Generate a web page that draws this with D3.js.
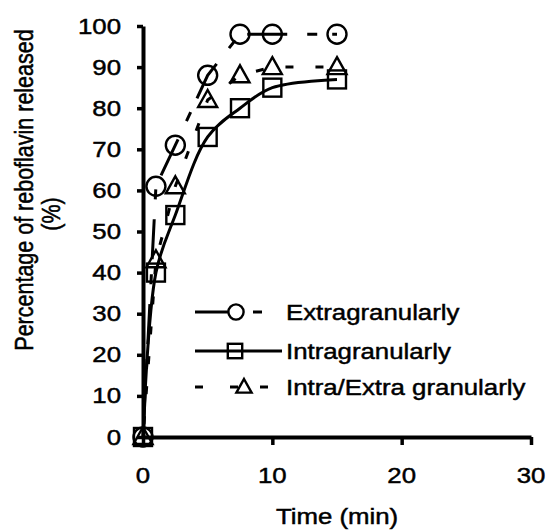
<!DOCTYPE html>
<html>
<head>
<meta charset="utf-8">
<script src="https://cdn.jsdelivr.net/npm/d3@7"></script>
<style>
  html, body { margin: 0; padding: 0; background: #fff; }
  svg { display: block; }
  text { font-family: "Liberation Sans", Arial, sans-serif; fill: #000; stroke: #000; stroke-width: 0.45px; }
</style>
</head>
<body>
<div id="chart"></div>
<script>
// ---- data ----
const timeMin = [0, 1, 2.5, 5, 7.5, 10, 15];
const extraValues = [0, 61, 71, 88, 98, 98, 98];        // Extragranularly (circles)
const intraValues = [0, 40, 54, 73, 80, 85, 87];        // Intragranularly (squares)
const intraExtraValues = [0, 43, 61, 82, 88, 90, 90];   // Intra/Extra granularly (triangles)
const seriesNames = ["Extragranularly", "Intragranularly", "Intra/Extra granularly"];
const xTickValues = [0, 10, 20, 30];
const yTickValues = [0, 10, 20, 30, 40, 50, 60, 70, 80, 90, 100];
const xLabel = "Time (min)";
const yLabelLines = ["Percentage of reboflavin released", "(%)"];

// ---- drawing ----
const W = 546, H = 530;
const SX = 1.2; // horizontal stretch of the lettering in the reference
const FS = 21.5;

const svg = d3.select("#chart").append("svg").attr("width", W).attr("height", H);

const x = d3.scaleLinear().domain([0, 30]).range([143, 531]);
const y = d3.scaleLinear().domain([0, 100]).range([437, 26]);

// axes
const yAxis = d3.axisLeft(y).tickValues(yTickValues).tickSize(6).tickSizeOuter(0).tickFormat("");
const xAxis = d3.axisBottom(x).tickValues(xTickValues).tickSize(8).tickSizeOuter(0).tickFormat("");

const gy = svg.append("g").attr("transform", `translate(${x(0)},0)`).call(yAxis);
const gx = svg.append("g").attr("transform", `translate(0,${y(0)})`).call(xAxis);
[gy, gx].forEach(g => {
  g.select(".domain").attr("stroke", "#000").attr("stroke-width", 4);
  g.selectAll(".tick line").attr("stroke", "#000").attr("stroke-width", 3.5);
});

// tick labels
svg.append("g").selectAll("text").data(yTickValues).join("text")
  .attr("transform", d => `translate(${x(0) - 22},${y(d) + 7.5}) scale(${SX},1)`)
  .attr("text-anchor", "end").attr("font-size", FS).text(d => d);
svg.append("g").selectAll("text").data(xTickValues).join("text")
  .attr("transform", d => `translate(${x(d)},${y(0) + 46}) scale(${SX},1)`)
  .attr("text-anchor", "middle").attr("font-size", FS).text(d => d);

// axis titles
svg.append("text")
  .attr("transform", `translate(${x(15)},524) scale(${SX},1)`)
  .attr("text-anchor", "middle").attr("font-size", FS).text(xLabel);
svg.append("text")
  .attr("transform", `translate(33,190) scale(${SX},1) rotate(-90)`)
  .attr("text-anchor", "middle").attr("font-size", FS).text(yLabelLines[0]);
svg.append("text")
  .attr("transform", `translate(60,214) scale(${SX},1) rotate(-90)`)
  .attr("text-anchor", "middle").attr("font-size", FS).text(yLabelLines[1]);

// series
const series = [
  { name: seriesNames[0], values: extraValues, marker: "circle", dash: "40,20,10,15", offset: 77, curve: d3.curveLinear },
  { name: seriesNames[1], values: intraValues, marker: "square", dash: null, offset: 0, curve: d3.curveCatmullRom },
  { name: seriesNames[2], values: intraExtraValues, marker: "triangle", dash: "8,22", offset: 17, curve: d3.curveLinear }
];

function drawMarker(g, type, cx, cy, k = 1) {
  const common = s => s.attr("fill", "none").attr("stroke", "#000").attr("stroke-width", 2.4);
  if (type === "circle") {
    common(g.append("circle").attr("cx", cx).attr("cy", cy).attr("r", 9.5 * k));
  } else if (type === "square") {
    common(g.append("rect").attr("x", cx - 9 * k).attr("y", cy - 9 * k).attr("width", 18 * k).attr("height", 18 * k));
  } else {
    common(g.append("path").attr("d", `M${cx},${cy - 10 * k}L${cx + 9.5 * k},${cy + 7 * k}L${cx - 9.5 * k},${cy + 7 * k}Z`));
  }
}

series.forEach(s => {
  const pts = timeMin.map((t, i) => [t, s.values[i]]);
  const line = d3.line().x(d => x(d[0])).y(d => y(d[1])).curve(s.curve);
  svg.append("path").attr("d", line(pts)).attr("fill", "none").attr("stroke", "#000")
    .attr("stroke-width", 3).attr("stroke-dasharray", s.dash).attr("stroke-dashoffset", s.offset);
  const gm = svg.append("g");
  pts.forEach(p => drawMarker(gm, s.marker, x(p[0]), y(p[1])));
});

// legend
const legendRows = [312, 351, 387];
const legendTextX = 286;
const legend = svg.append("g");
const seg = (x1, x2, ly) => legend.append("line").attr("x1", x1).attr("x2", x2).attr("y1", ly).attr("y2", ly)
  .attr("stroke", "#000").attr("stroke-width", 3);
series.forEach((s, i) => {
  const ly = legendRows[i];
  if (i === 0) {
    seg(195, 229, ly); seg(253, 262, ly);
    drawMarker(legend, "circle", 236, ly, 0.8);
  } else if (i === 1) {
    seg(195, 282, ly);
    drawMarker(legend, "square", 235, ly, 0.8);
  } else {
    seg(195, 203, ly); seg(230, 238, ly); seg(260, 268, ly);
    drawMarker(legend, "triangle", 244, ly, 0.8);
  }
  legend.append("text").attr("transform", `translate(${legendTextX},${ly + 7.5}) scale(${SX},1)`)
    .attr("font-size", FS).text(s.name);
});
</script>
</body>
</html>
